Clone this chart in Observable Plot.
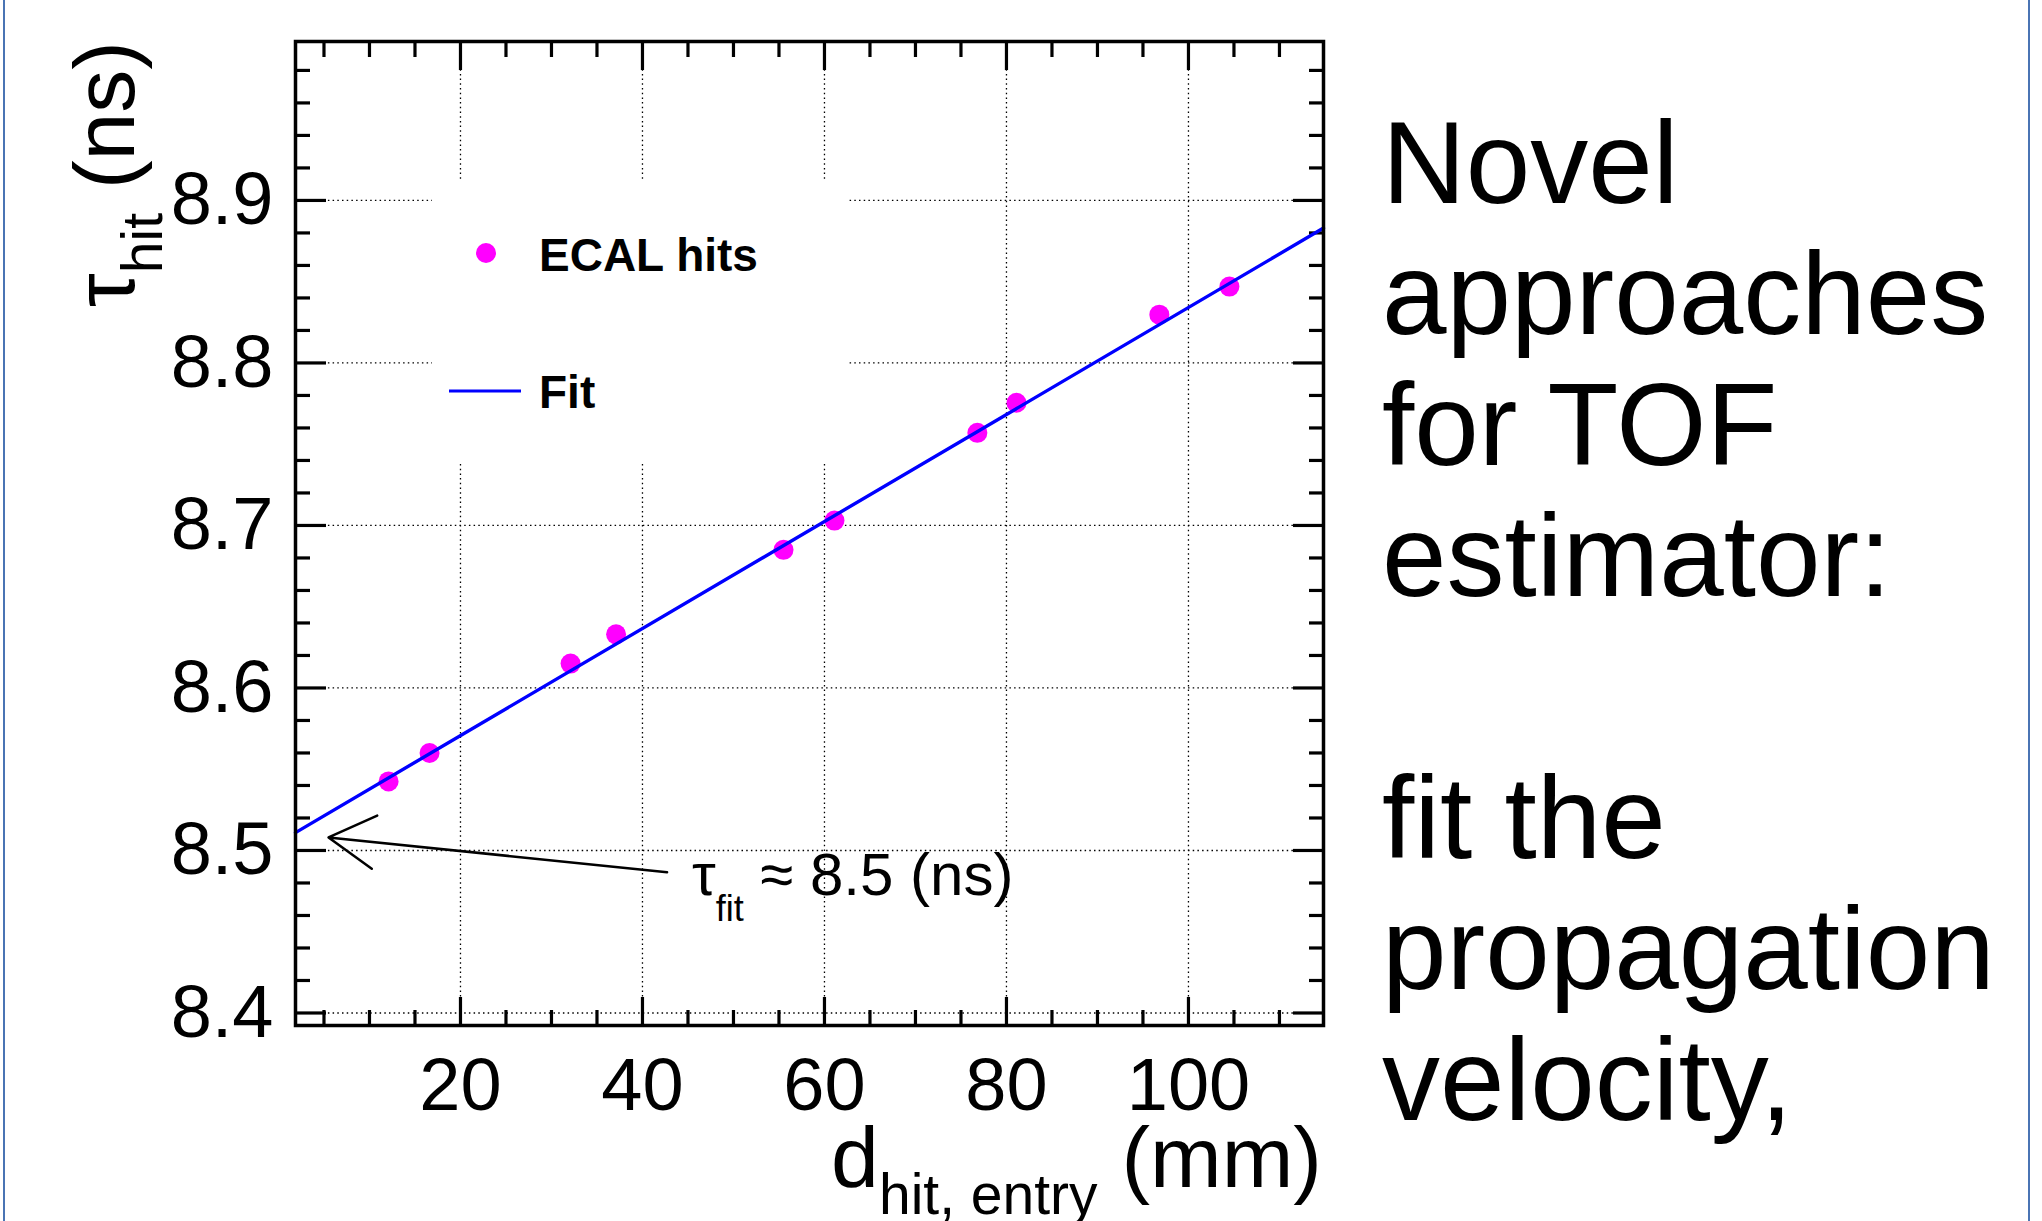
<!DOCTYPE html>
<html><head><meta charset="utf-8">
<script src="https://cdn.jsdelivr.net/npm/d3@7"></script>
<script src="https://cdn.jsdelivr.net/npm/@observablehq/plot@0.6"></script>
<style>
html,body{margin:0;padding:0;background:#fff;width:2042px;height:1221px;overflow:hidden}
#chart{position:absolute;left:0;top:0}
#side{position:absolute;left:1382px;top:98px;font-family:"Liberation Sans",Arial,sans-serif;font-size:116px;line-height:131px;color:#000;white-space:pre}
.border{position:absolute;top:0;width:2px;height:1221px;background:#4a74b4}
</style></head><body>
<div class="border" style="left:3px"></div>
<div class="border" style="left:2028px"></div>
<div id="chart"></div>
<div id="side"></div>
<script>
// ---- data ----
const hitDistance = [12.1, 16.6, 32.1, 37.1, 55.5, 61.1, 76.8, 81.1, 96.8, 104.5];
const hitTime     = [8.5425, 8.560, 8.615, 8.633, 8.685, 8.703, 8.757, 8.7755, 8.8297, 8.847];
const fitDistance = [1.87, 114.84];
const fitTime     = [8.511, 8.883];
const xMajorTicks = [20, 40, 60, 80, 100];
const xMinorTicks = [5, 10, 15, 25, 30, 35, 45, 50, 55, 65, 70, 75, 85, 90, 95, 105, 110];
const yMajorTicks = [8.4, 8.5, 8.6, 8.7, 8.8, 8.9];
const yMinorTicks = [8.42, 8.44, 8.46, 8.48, 8.52, 8.54, 8.56, 8.58, 8.62, 8.64, 8.66, 8.68,
                     8.72, 8.74, 8.76, 8.78, 8.82, 8.84, 8.86, 8.88, 8.92, 8.94, 8.96, 8.98];
const arrowTail = [42.7, 8.4866];
const arrowTip  = [5.5, 8.508];
const notePos   = [45.5, 8.4723];
const legendLabels = ["ECAL hits", "Fit"];
const sideLines = ["Novel", "approaches", "for TOF", "estimator:", "", "fit the", "propagation", "velocity,"];

const points = hitDistance.map((d, i) => ({d, t: hitTime[i]}));
const fit = fitDistance.map((d, i) => ({d, t: fitTime[i]}));

const FONT = "Liberation Sans, Arial, Helvetica, sans-serif";
const dotted = {stroke: "#000", strokeOpacity: 1, strokeWidth: 1.3, strokeDasharray: "1.5,3.2"};
const tickStyle = {stroke: "#000", strokeWidth: 3.2, fill: "none", label: null};

const chart = Plot.plot({
  width: 1330, height: 1221,
  marginLeft: 295, marginRight: 7, marginTop: 41, marginBottom: 196,
  x: {domain: [1.87, 114.84]},
  y: {domain: [8.3923, 8.9978]},
  style: {fontFamily: FONT, color: "#000", background: "transparent", overflow: "visible"},
  marks: [
    Plot.gridX(xMajorTicks, dotted),
    Plot.gridY(yMajorTicks, dotted),
    // inward ticks on all four sides
    Plot.axisX(xMajorTicks, {anchor: "bottom", tickSize: -28, ...tickStyle}),
    Plot.axisX(xMinorTicks, {anchor: "bottom", tickSize: -15, ...tickStyle}),
    Plot.axisX(xMajorTicks, {anchor: "top", tickSize: -28, ...tickStyle}),
    Plot.axisX(xMinorTicks, {anchor: "top", tickSize: -15, ...tickStyle}),
    Plot.axisY(yMajorTicks, {anchor: "left", tickSize: -31, ...tickStyle}),
    Plot.axisY(yMinorTicks, {anchor: "left", tickSize: -15, ...tickStyle}),
    Plot.axisY(yMajorTicks, {anchor: "right", tickSize: -31, ...tickStyle}),
    Plot.axisY(yMinorTicks, {anchor: "right", tickSize: -15, ...tickStyle}),
    // tick labels
    Plot.axisX(xMajorTicks, {anchor: "bottom", tickSize: 0, tickPadding: 32, fontSize: 74, label: null, tickFormat: d => String(d)}),
    Plot.axisY(yMajorTicks, {anchor: "left", tickSize: 0, tickPadding: 22, fontSize: 74, label: null, tickFormat: d => d.toFixed(1)}),
    Plot.dot(points, {x: "d", y: "t", r: 10, fill: "#ff00ff", stroke: "none"}),
    Plot.line(fit, {x: "d", y: "t", stroke: "#0000ff", strokeWidth: 3.4}),
    Plot.arrow([{x1: arrowTail[0], y1: arrowTail[1], x2: arrowTip[0], y2: arrowTip[1]}],
      {x1: "x1", y1: "y1", x2: "x2", y2: "y2", stroke: "#000", strokeWidth: 2.5, headAngle: 60, headLength: 32}),
    Plot.frame({stroke: "#000", strokeWidth: 3.5})
  ]
});
document.getElementById("chart").appendChild(chart);

const svg = d3.select(chart);
const sx = chart.scale("x"), sy = chart.scale("y");

// legend (white box hides the grid behind it)
const lg = svg.append("g").attr("font-family", FONT).attr("text-anchor", "start");
lg.append("rect").attr("x", 432).attr("y", 181).attr("width", 416).attr("height", 282).attr("fill", "#fff");
lg.append("circle").attr("cx", 486).attr("cy", 253).attr("r", 10).attr("fill", "#ff00ff");
lg.append("line").attr("x1", 449).attr("x2", 521).attr("y1", 391).attr("y2", 391).attr("stroke", "#0000ff").attr("stroke-width", 3);
lg.append("text").attr("x", 539).attr("y", 270.5).attr("font-size", 46).attr("font-weight", "bold").text(legendLabels[0]);
lg.append("text").attr("x", 539).attr("y", 408).attr("font-size", 46).attr("font-weight", "bold").text(legendLabels[1]);
chart.insertBefore(lg.node(), chart.querySelector("g[aria-label='dot']"));

// axis titles with subscripts
const xt = svg.append("text").attr("font-family", FONT).attr("text-anchor", "end")
  .attr("x", sx.apply(fitDistance[1]) - 1).attr("y", 1187).attr("font-size", 86);
xt.append("tspan").text("d");
xt.append("tspan").attr("font-size", 57).attr("dy", 27).text("hit, entry");
xt.append("tspan").attr("dy", -27).text(" (mm)");

const yt = svg.append("text").attr("font-family", FONT).attr("text-anchor", "end")
  .attr("transform", `translate(134,${sy.apply(sy.domain[1])}) rotate(-90)`).attr("font-size", 86);
yt.append("tspan").text("τ");
yt.append("tspan").attr("font-size", 57).attr("dy", 28).text("hit");
yt.append("tspan").attr("dy", -28).text(" (ns)");

// annotation
const nt = svg.append("text").attr("font-family", FONT).attr("text-anchor", "start")
  .attr("x", sx.apply(notePos[0])).attr("y", sy.apply(notePos[1])).attr("font-size", 60);
nt.append("tspan").text("τ");
nt.append("tspan").attr("font-size", 36).attr("dy", 26).text("fit");
nt.append("tspan").attr("dy", -26).text(" ≈ 8.5 (ns)");

document.getElementById("side").textContent = sideLines.join("\n");
</script>
</body></html>
